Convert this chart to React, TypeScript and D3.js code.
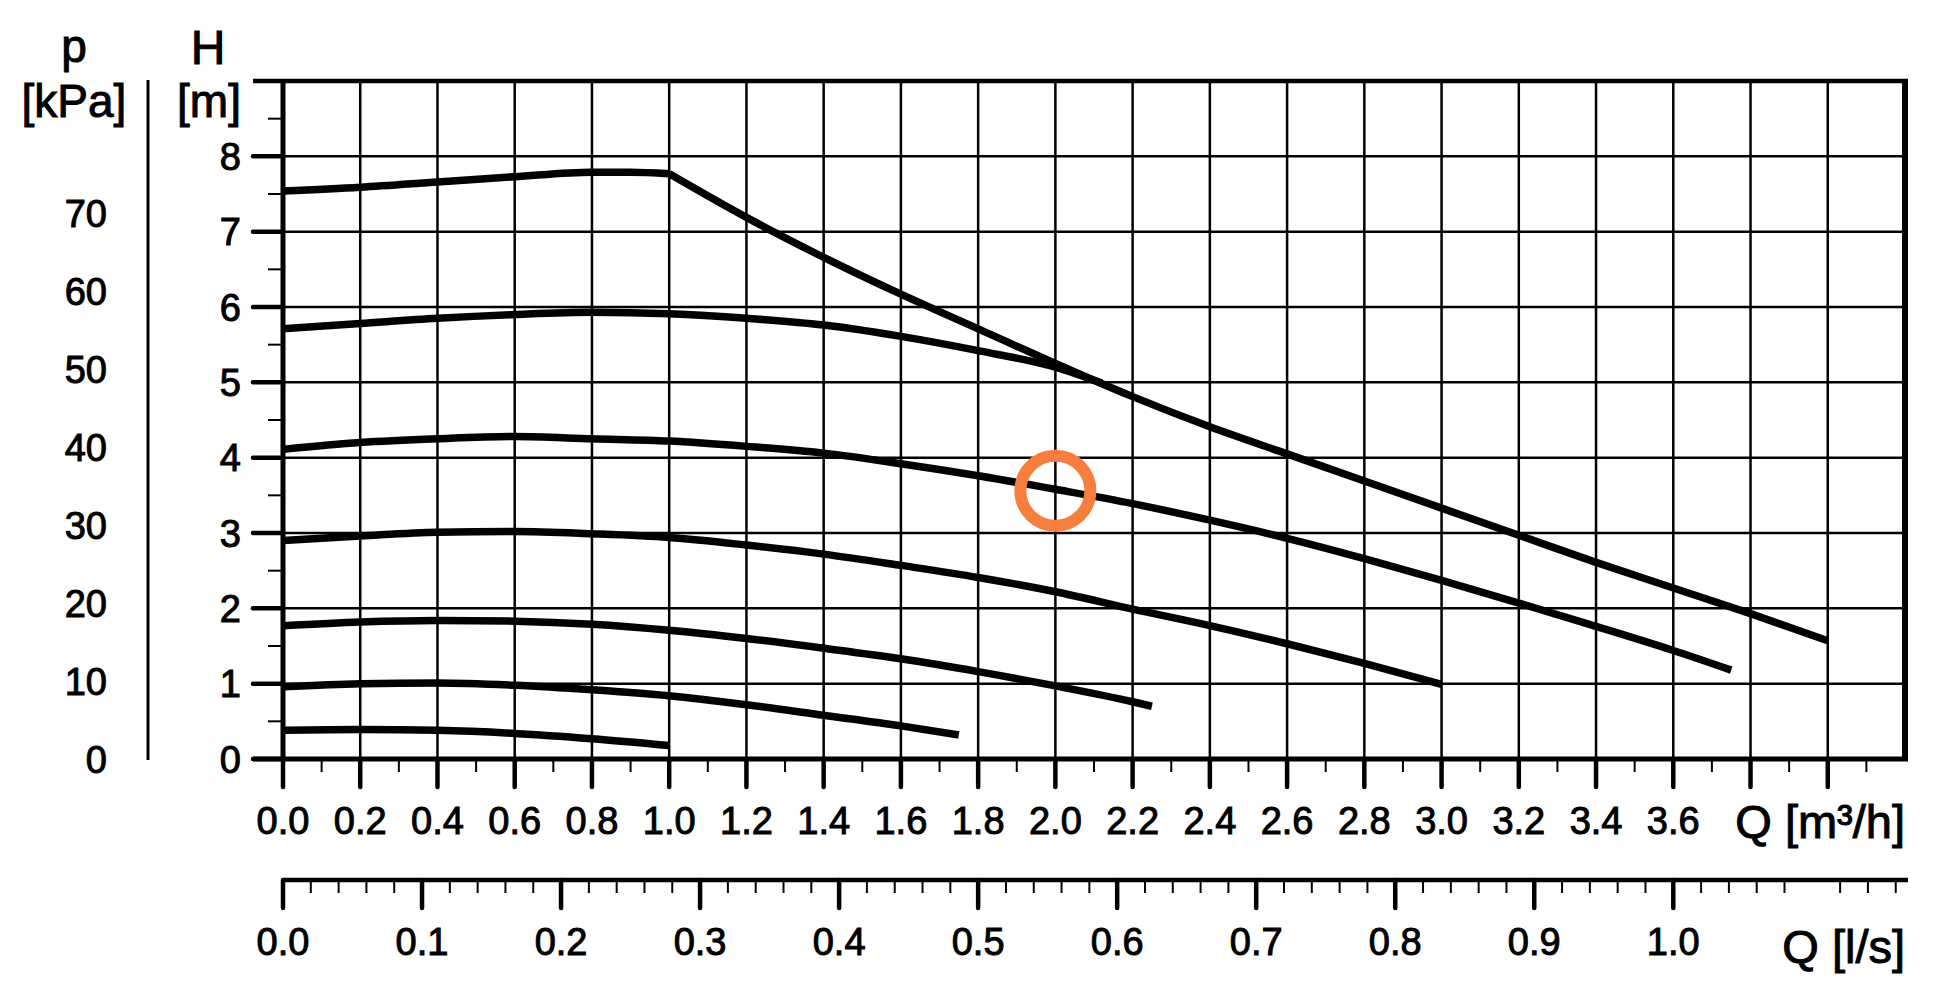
import React from 'react';
import * as d3 from 'd3';

// pump curves: Q in m³/h, H in m
const maxRiseQ = [0, 0.2, 0.4, 0.6, 0.8, 0.9, 1.0];
const maxRiseH = [7.54, 7.59, 7.66, 7.73, 7.79, 7.79, 7.77];
const maxDropQ = [1.0, 1.2, 1.4, 1.6, 1.8, 2.0, 2.2, 2.4, 2.6, 2.8, 3.0, 3.2, 3.4, 3.6, 3.8, 4.0];
const maxDropH = [7.77, 7.19, 6.66, 6.17, 5.71, 5.25, 4.81, 4.41, 4.05, 3.69, 3.33, 2.97, 2.61, 2.27, 1.93, 1.57];

const c57Q = [0, 0.2, 0.4, 0.6, 0.8, 1.0, 1.2, 1.4, 1.6, 1.8, 2.0, 2.12];
const c57H = [5.71, 5.78, 5.85, 5.90, 5.93, 5.91, 5.85, 5.76, 5.61, 5.42, 5.20, 4.99];

const c41Q = [0, 0.2, 0.4, 0.6, 0.8, 1.0, 1.2, 1.4, 1.6, 1.8, 2.0, 2.2, 2.4, 2.6, 2.8, 3.0, 3.2, 3.4, 3.6, 3.75];
const c41H = [4.11, 4.20, 4.25, 4.28, 4.25, 4.22, 4.15, 4.06, 3.92, 3.76, 3.58, 3.39, 3.17, 2.93, 2.66, 2.37, 2.07, 1.76, 1.44, 1.18];

const c29Q = [0, 0.2, 0.4, 0.6, 0.8, 1.0, 1.2, 1.4, 1.6, 1.8, 2.0, 2.2, 2.4, 2.6, 2.8, 3.0];
const c29H = [2.90, 2.96, 3.01, 3.02, 2.99, 2.94, 2.84, 2.72, 2.57, 2.41, 2.22, 1.99, 1.77, 1.53, 1.27, 0.99];

const c17Q = [0, 0.2, 0.4, 0.6, 0.8, 1.0, 1.2, 1.4, 1.6, 1.8, 2.0, 2.2, 2.25];
const c17H = [1.77, 1.82, 1.84, 1.83, 1.79, 1.71, 1.60, 1.47, 1.33, 1.16, 0.97, 0.76, 0.70];

const c10Q = [0, 0.2, 0.4, 0.6, 0.8, 1.0, 1.2, 1.4, 1.6, 1.75];
const c10H = [0.96, 1.0, 1.01, 0.98, 0.92, 0.84, 0.72, 0.58, 0.44, 0.32];

const c04Q = [0, 0.2, 0.4, 0.6, 0.8, 1.0];
const c04H = [0.38, 0.39, 0.38, 0.34, 0.27, 0.18];

// duty point marker
const markQ = 2.0;
const markH = 3.56;

// axis labels
const hTicks = [0, 1, 2, 3, 4, 5, 6, 7, 8];
const kpaTicks = [0, 10, 20, 30, 40, 50, 60, 70];
const qTicks = [0, 0.2, 0.4, 0.6, 0.8, 1.0, 1.2, 1.4, 1.6, 1.8, 2.0, 2.2, 2.4, 2.6, 2.8, 3.0, 3.2, 3.4, 3.6];
const lsTicks = [0, 0.1, 0.2, 0.3, 0.4, 0.5, 0.6, 0.7, 0.8, 0.9, 1.0];

const Q_MAX = 4.2;
const H_MAX = 9;
const KPA_PER_M = 9.66;
const M3H_PER_LS = 3.6;

const FONT = '"Liberation Sans", Arial, sans-serif';

const x = d3.scaleLinear().domain([0, Q_MAX]).range([283, 1905]);
const y = d3.scaleLinear().domain([0, H_MAX]).range([759, 81]);
const yKpa = d3.scaleLinear().domain([0, H_MAX * KPA_PER_M]).range(y.range());
const xLs = d3.scaleLinear().domain([0, Q_MAX / M3H_PER_LS]).range(x.range());

const line = d3.line<[number, number]>()
  .x(d => x(d[0]))
  .y(d => y(d[1]))
  .curve(d3.curveMonotoneX);

const zip = (qs: number[], hs: number[]) => qs.map((q, i) => [q, hs[i]] as [number, number]);

const curves = [
  zip(maxRiseQ, maxRiseH),
  zip(maxDropQ, maxDropH),
  zip(c57Q, c57H),
  zip(c41Q, c41H),
  zip(c29Q, c29H),
  zip(c17Q, c17H),
  zip(c10Q, c10H),
  zip(c04Q, c04H),
];

export default function App() {
  const [x0, x1] = x.range();
  const [y0, y1] = y.range();
  const lsAxisY = 880;

  const vGrid = d3.range(1, Math.round(Q_MAX / 0.2)).map(i => i * 0.2);
  const hGrid = d3.range(1, H_MAX);
  const hMinor = d3.range(0, H_MAX).map(i => i + 0.5);
  const qMajor = d3.range(0, Math.round(Q_MAX / 0.2)).map(i => i * 0.2);
  const qMinor = d3.range(0, Math.round(Q_MAX / 0.2)).map(i => i * 0.2 + 0.1);
  const lsMax = Q_MAX / M3H_PER_LS;
  const lsMinor = d3.range(1, Math.floor(lsMax / 0.02 + 1e-6) + 1)
    .map(i => i * 0.02)
    .filter(v => Math.abs(v * 10 - Math.round(v * 10)) > 1e-6);

  return (
    <div>
      <style>{`body{margin:0;background:#fff}`}</style>
      <svg width={1936} height={997} style={{ display: 'block', fontFamily: FONT }}>
        <rect width={1936} height={997} fill="#fff" />

        {/* grid */}
        {vGrid.map(q => (
          <line key={'vg' + q} x1={x(q)} x2={x(q)} y1={y0} y2={y1} stroke="#000" strokeWidth={2.5} />
        ))}
        {hGrid.map(h => (
          <line key={'hg' + h} x1={x0} x2={x1} y1={y(h)} y2={y(h)} stroke="#000" strokeWidth={2.5} />
        ))}

        {/* frame */}
        <line x1={x1} x2={x1} y1={y1 - 2} y2={y0} stroke="#000" strokeWidth={6} />
        <line x1={253} x2={x1 + 3} y1={y1} y2={y1} stroke="#000" strokeWidth={4.5} />
        <line x1={x0} x2={x0} y1={y1} y2={y0} stroke="#000" strokeWidth={5} />
        <line x1={253} x2={x1 + 3} y1={y0} y2={y0} stroke="#000" strokeWidth={5} />

        {/* H axis ticks */}
        {hTicks.map(h => (
          <line key={'ht' + h} x1={253} x2={x0} y1={y(h)} y2={y(h)} stroke="#000" strokeWidth={4.5} strokeLinecap="round" />
        ))}
        {hMinor.map(h => (
          <line key={'hm' + h} x1={268} x2={x0} y1={y(h)} y2={y(h)} stroke="#000" strokeWidth={2} />
        ))}

        {/* kPa axis */}
        <line x1={148} x2={148} y1={80} y2={760} stroke="#000" strokeWidth={3} />

        {/* Q m³/h axis ticks */}
        {qMajor.map(q => (
          <line key={'qt' + q} x1={x(q)} x2={x(q)} y1={y0} y2={y0 + 28} stroke="#000" strokeWidth={4.5} strokeLinecap="round" />
        ))}
        {qMinor.map(q => (
          <line key={'qm' + q} x1={x(q)} x2={x(q)} y1={y0} y2={y0 + 13} stroke="#000" strokeWidth={2} />
        ))}

        {/* Q l/s axis */}
        <line x1={x0} x2={x1 + 3} y1={lsAxisY} y2={lsAxisY} stroke="#000" strokeWidth={4.5} />
        {lsTicks.map(v => (
          <line key={'lt' + v} x1={xLs(v)} x2={xLs(v)} y1={lsAxisY} y2={lsAxisY + 28} stroke="#000" strokeWidth={4.5} strokeLinecap="round" />
        ))}
        {lsMinor.map(v => (
          <line key={'lm' + v} x1={xLs(v)} x2={xLs(v)} y1={lsAxisY} y2={lsAxisY + 13} stroke="#000" strokeWidth={2} />
        ))}

        {/* text, slightly heavier like the original print */}
        <g fill="#000" stroke="#000" strokeWidth={1}>
          {hTicks.map(h => (
            <text key={'hl' + h} x={241} y={y(h)} dy="0.36em" textAnchor="end" fontSize={38}>{h}</text>
          ))}
          {kpaTicks.map(p => (
            <text key={'kp' + p} x={107} y={yKpa(p)} dy="0.36em" textAnchor="end" fontSize={38}>{p}</text>
          ))}
          {qTicks.map(q => (
            <text key={'ql' + q} x={x(q)} y={834} textAnchor="middle" fontSize={38}>{q.toFixed(1)}</text>
          ))}
          {lsTicks.map(v => (
            <text key={'ll' + v} x={xLs(v)} y={955} textAnchor="middle" fontSize={38}>{v.toFixed(1)}</text>
          ))}
          <text x={74} y={62} textAnchor="middle" fontSize={46}>p</text>
          <text x={74} y={117} textAnchor="middle" fontSize={46}>[kPa]</text>
          <text x={208} y={64} textAnchor="middle" fontSize={48}>H</text>
          <text x={209} y={117} textAnchor="middle" fontSize={46}>[m]</text>
          <text x={x1} y={838} textAnchor="end" fontSize={47}>Q [m³/h]</text>
          <text x={x1} y={963} textAnchor="end" fontSize={47}>Q [l/s]</text>
        </g>

        {/* pump curves */}
        {curves.map((c, i) => (
          <path key={'c' + i} d={line(c) || ''} fill="none" stroke="#000" strokeWidth={7.5} strokeLinejoin="round" />
        ))}

        {/* duty point */}
        <circle cx={x(markQ)} cy={y(markH)} r={35} fill="none" stroke="#f67f3f" strokeWidth={12} />
      </svg>
    </div>
  );
}
